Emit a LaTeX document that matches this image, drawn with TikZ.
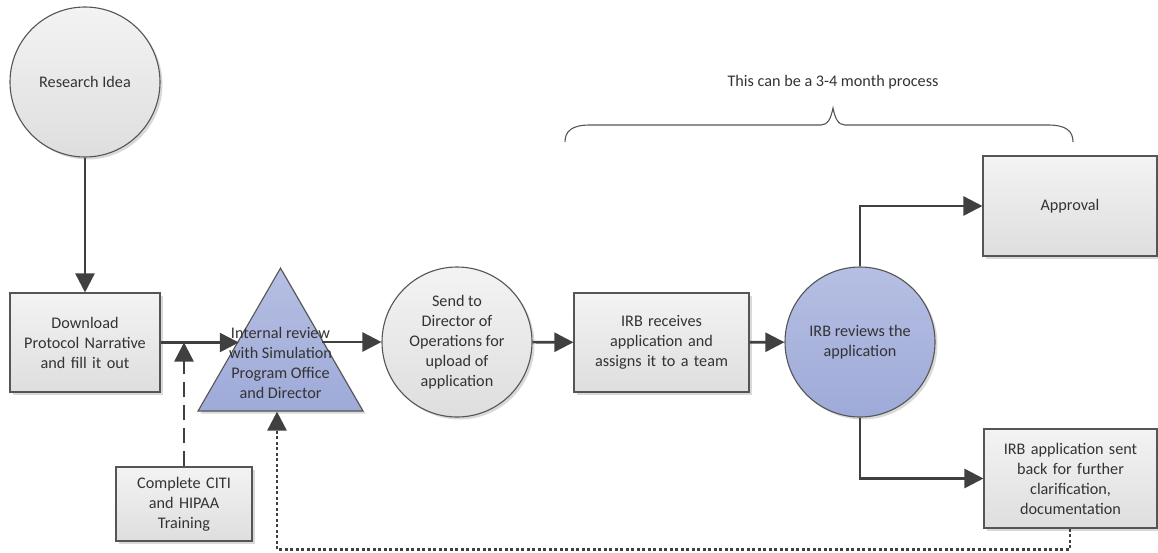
\documentclass[tikz,border=0pt]{standalone}
\usepackage{fontspec}
\setmainfont{Carlito}
\usetikzlibrary{arrows.meta,shapes.geometric,shadows}
\definecolor{edge}{HTML}{555555}
\definecolor{ink}{HTML}{333333}
\definecolor{wire}{HTML}{404040}
\definecolor{greytop}{HTML}{F3F3F3}
\definecolor{greybot}{HTML}{DEDEDE}
\definecolor{bluetop}{HTML}{B6BFE3}
\definecolor{bluebot}{HTML}{9EAAD8}
\begin{document}
\begin{tikzpicture}[x=1pt,y=-1pt,
  every node/.style={font=\fontsize{16.2}{20}\selectfont, text=ink},
  softshadow/.style={drop shadow={shadow xshift=2.5pt,shadow yshift=-2.5pt,fill=black,opacity=0.15}},
  greyfill/.style={top color=greytop,bottom color=greybot,draw=edge,line width=1.1pt,softshadow},
  bluefill/.style={top color=bluetop,bottom color=bluebot,draw=edge,line width=1.1pt,softshadow},
  procbox/.style={greyfill,rectangle,inner sep=2pt,align=center},
  roundstep/.style={greyfill,circle,minimum size=150pt,inner sep=0pt,align=center},
  flow/.style={draw=wire,line width=2.6pt,-{Triangle[length=19pt,width=19pt]}},
  needs/.style={flow,dash pattern=on 15pt off 8pt},
  loopback/.style={flow,dash pattern=on 3pt off 2.5pt}]
\useasboundingbox (0,0) rectangle (1158,552);

% main process steps
\node[roundstep] (idea) at (85,82) {Research Idea};
\node[procbox,minimum width=150pt,minimum height=99pt,text width=146pt] (download) at (85,342.5)
  {Download\\Protocol Narrative\\and fill it out};
\node[bluefill,regular polygon,regular polygon sides=3,minimum size=190.5pt,inner sep=0pt] (tri) at (280.5,363.4) {};
\node[align=center] (tritext) at (tri.center) {Internal review\\with Simulation\\Program Office\\and Director};
\node[roundstep] (send) at (457,342) {Send to\\Director of\\Operations for\\upload of\\application};
\node[procbox,minimum width=175pt,minimum height=99pt,text width=171pt] (recv) at (661.5,342.5)
  {IRB receives\\application and\\assigns it to a team};
\node[bluefill,circle,minimum size=150pt,inner sep=0pt,align=center] (review) at (860,342)
  {IRB reviews the\\application};
\node[procbox,minimum width=174pt,minimum height=100pt,text width=170pt] (approval) at (1070,206)
  {Approval};
\node[procbox,minimum width=173pt,minimum height=99pt,text width=169pt] (back) at (1070.5,478.5)
  {IRB application sent\\back for further\\clarification,\\documentation};
\node[procbox,minimum width=136pt,minimum height=74pt,text width=132pt] (train) at (184,504)
  {Complete CITI\\and HIPAA\\Training};

% connectors
\draw[flow] (idea) -- (download);
\draw[flow] (download.east) -- (download.east -| tri.side 1);
\draw[flow] (send.west -| tri.side 3) -- (send.west);
\draw[flow] (send) -- (recv);
\draw[flow] (recv) -- (review);
\draw[flow] (review.north) |- (approval.west);
\draw[flow] (review.south) |- (back.west);
\draw[needs] (train.north) -- (train.north |- download.east);
\coordinate (loopturn) at (277,549.5);
\draw[loopback] (back.south -| 1070,0) |- (loopturn) -- (loopturn |- tri.side 2);

% brace over the IRB stage
\draw[edge,line width=1.1pt] (565,142) .. controls (565,131) and (572,125) .. (590,125)
  -- (821,125) .. controls (828,125) and (831,118) .. (833,108)
  .. controls (835,118) and (838,125) .. (845,125)
  -- (1048,125) .. controls (1066,125) and (1073,131) .. (1073,142);
\node (note) at (833,82) {This can be a 3-4 month process};
\end{tikzpicture}
\end{document}
